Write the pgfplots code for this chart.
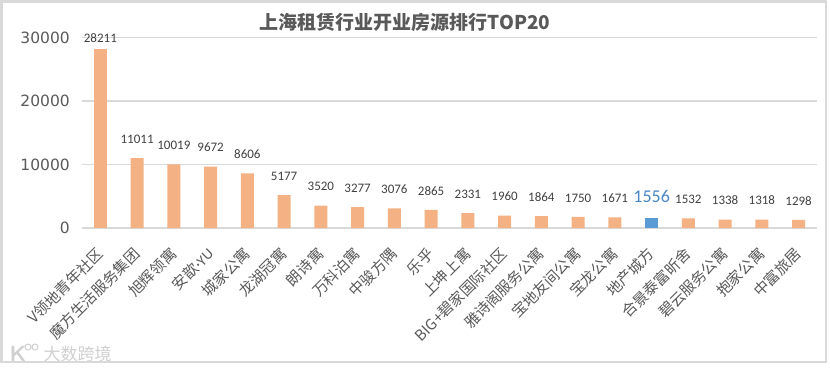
\documentclass[border=0pt]{standalone}
\usepackage{fontspec}
\usepackage{pgfplots}
\pgfplotsset{compat=1.18}
\setmainfont{Carlito}
\newfontfamily\cjk{Noto Sans CJK SC}
\newfontfamily\tickfont{DejaVu Sans}
\definecolor{barorange}{HTML}{F4B183}
\definecolor{barblue}{HTML}{5B9BD5}
\definecolor{gridgray}{HTML}{D9D9D9}
\definecolor{txtgray}{HTML}{595959}
\definecolor{lblgray}{HTML}{404040}
\definecolor{hiblue}{HTML}{4A86C6}
\definecolor{wm}{HTML}{D0D0D0}
\begin{document}
\begin{tikzpicture}
\useasboundingbox (0pt,0pt) rectangle (830pt,376pt);
\draw[gridgray, line width=2.5pt] (1.5pt,14pt) rectangle (826pt,374.5pt);
\node[text=txtgray, font=\cjk\bfseries\fontsize{19}{19}\selectfont] at (405pt,354pt) {上海租赁行业开业房源排行TOP20};
\begin{axis}[
  at={(82pt,148pt)}, anchor=south west,
  scale only axis, width=735pt, height=190.5pt,
  xmin=-0.5, xmax=19.5, ymin=0, ymax=30000,
  axis line style={draw=none},
  major tick length=0pt,
  ytick={0,10000,20000,30000},
  scaled y ticks=false,
  ymajorgrids, grid style={gridgray, line width=1.3pt},
  /pgf/number format/1000 sep={},
  /pgf/number format/assume math mode=true,
  yticklabel style={font=\tickfont\fontsize{15.5}{15.5}\selectfont, text=txtgray, inner sep=0pt, anchor=east},
  yticklabel shift=12pt,
  xtick={0,...,19},
  xticklabels={V领地青年社区,魔方生活服务集团,旭辉领寓,安歆{\rmfamily·YU},城家公寓,龙湖冠寓,朗诗寓,万科泊寓,中骏方隅,乐乎,上坤上寓,BIG+碧家国际社区,雅诗阁服务公寓,宝地友间公寓,宝龙公寓,地产城方,合景泰富昕舍,碧云服务公寓,抱家公寓,中富旅居},
  xticklabel style={font=\cjk\fontsize{15}{15}\selectfont, text=txtgray, rotate=45, anchor=east, inner sep=0pt},
  xticklabel shift=23pt,
  clip=false,
]
\addplot[ybar, bar width=13pt, bar shift=0pt, fill=barorange, draw=none,
  nodes near coords, nodes near coords style={font=\fontsize{13}{13}\selectfont, text=lblgray, anchor=base, inner sep=0pt, yshift=6.7pt},
  /pgf/number format/1000 sep={}]
  coordinates {(0,28211)};
\addplot[ybar, bar width=13pt, bar shift=0pt, fill=barorange, draw=none,
  nodes near coords, nodes near coords style={font=\fontsize{13}{13}\selectfont, text=lblgray, anchor=base, inner sep=0pt, yshift=14.7pt},
  /pgf/number format/1000 sep={}]
  coordinates {(1,11011) (2,10019) (3,9672) (4,8606) (5,5177) (6,3520) (7,3277) (8,3076) (9,2865) (10,2331) (11,1960) (12,1864) (13,1750) (14,1671) (16,1532) (17,1338) (18,1318) (19,1298)};
\addplot[ybar, bar width=13pt, bar shift=0pt, fill=barblue, draw=none,
  nodes near coords, nodes near coords style={font=\fontsize{18}{18}\selectfont, text=hiblue, anchor=base, inner sep=0pt, yshift=16pt},
  /pgf/number format/1000 sep={}]
  coordinates {(15,1556)};
\end{axis}
\node[text=wm, font=\sffamily\bfseries\fontsize{22}{22}\selectfont] at (18pt,22pt) {K};
\draw[wm, line width=1pt] (28pt,29pt) circle (3pt) (35pt,29pt) circle (3pt);
\node[text=wm, font=\cjk\fontsize{17}{17}\selectfont, anchor=west] at (40pt,22pt) {大数跨境};
\end{tikzpicture}
\end{document}
